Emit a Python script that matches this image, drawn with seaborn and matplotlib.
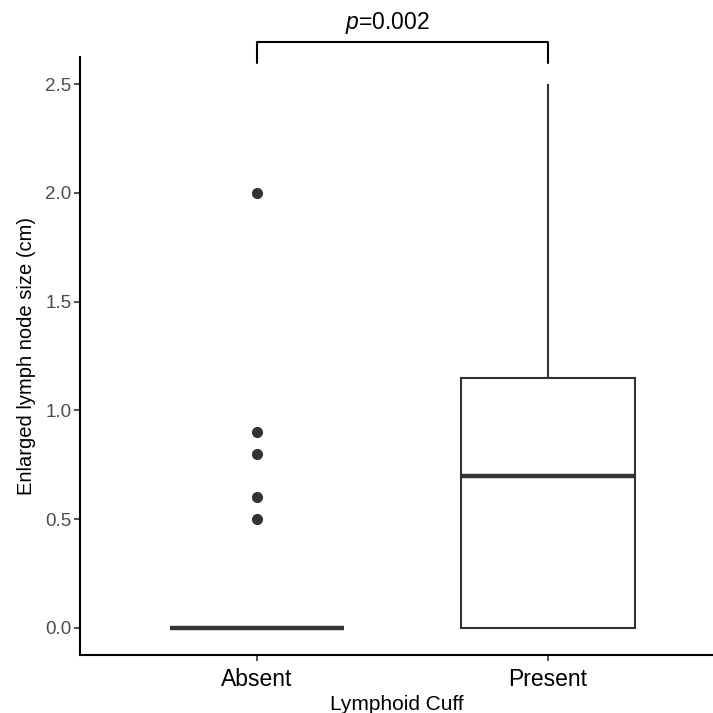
import matplotlib
matplotlib.use("Agg")
import matplotlib.pyplot as plt
import seaborn as sns
import pandas as pd

# ---------- DATA ----------
group_labels = ["Absent", "Present"]
absent_values = [0.0, 0.0, 0.0, 0.0, 0.0, 0.0, 0.0, 0.0, 0.0, 0.0,
                 0.0, 0.0, 0.0, 0.0, 0.0, 0.0, 0.0, 0.0, 0.0, 0.0,
                 0.5, 0.6, 0.8, 0.9, 2.0]
present_values = [0.0, 0.0, 0.0, 0.0, 0.2, 0.5, 0.7, 0.8, 1.0, 1.15,
                  1.5, 2.0, 2.5]
y_ticks = [0.0, 0.5, 1.0, 1.5, 2.0, 2.5]
p_label = "$p$=0.002"

df = pd.DataFrame({
    "group": [group_labels[0]] * len(absent_values) + [group_labels[1]] * len(present_values),
    "size": absent_values + present_values,
})

# ---------- STYLE ----------
sns.set_theme(style="white")
plt.rcParams["font.family"] = ["Liberation Sans", "DejaVu Sans"]
plt.rcParams["mathtext.fontset"] = "custom"
plt.rcParams["mathtext.it"] = "Liberation Sans:italic"
plt.rcParams["mathtext.rm"] = "Liberation Sans"

W = 713
fig = plt.figure(figsize=(7.13, 7.13), dpi=100)
ax = fig.add_axes([80 / W, (W - 655) / W, (W - 80) / W, (655 - 57) / W])

line_col = "#333333"
sns.boxplot(
    data=df, x="group", y="size", order=group_labels, ax=ax,
    color="white", linecolor=line_col, linewidth=1.5, width=0.6,
    showcaps=False,
    medianprops=dict(linewidth=3.2, color=line_col),
    flierprops=dict(marker="o", markerfacecolor=line_col,
                    markeredgecolor=line_col, markersize=7),
)

ax.set_xlim(-0.608, 1.567)
ax.set_ylim(-0.125, 2.625)
ax.set_yticks(y_ticks)
ax.set_yticklabels([f"{t:.1f}" for t in y_ticks])

for side in ["top", "right"]:
    ax.spines[side].set_visible(False)
for side in ["left", "bottom"]:
    ax.spines[side].set_color("black")
    ax.spines[side].set_linewidth(1.5)

ax.tick_params(axis="y", direction="out", length=4, width=1.2, color="#333333",
               labelsize=13.5, labelcolor="#4D4D4D", left=True, pad=2)
ax.tick_params(axis="x", direction="out", length=4, width=1.2, color="#333333",
               labelsize=16.5, labelcolor="black", bottom=True, pad=5)

ax.set_xlabel("Lymphoid Cuff", fontsize=15, color="black", labelpad=3)
ax.set_ylabel("Enlarged lymph node size (cm)", fontsize=14.5, color="black", labelpad=7)

# ---------- SIGNIFICANCE BRACKET ----------
ax.plot([0, 0, 1, 1], [2.597, 2.693, 2.693, 2.597], color="black",
        linewidth=1.5, clip_on=False)
ax.text(0.447, 2.78, p_label, ha="center", va="center", fontsize=16.5, color="black")

fig.savefig("out.png", dpi=100, facecolor="white")
